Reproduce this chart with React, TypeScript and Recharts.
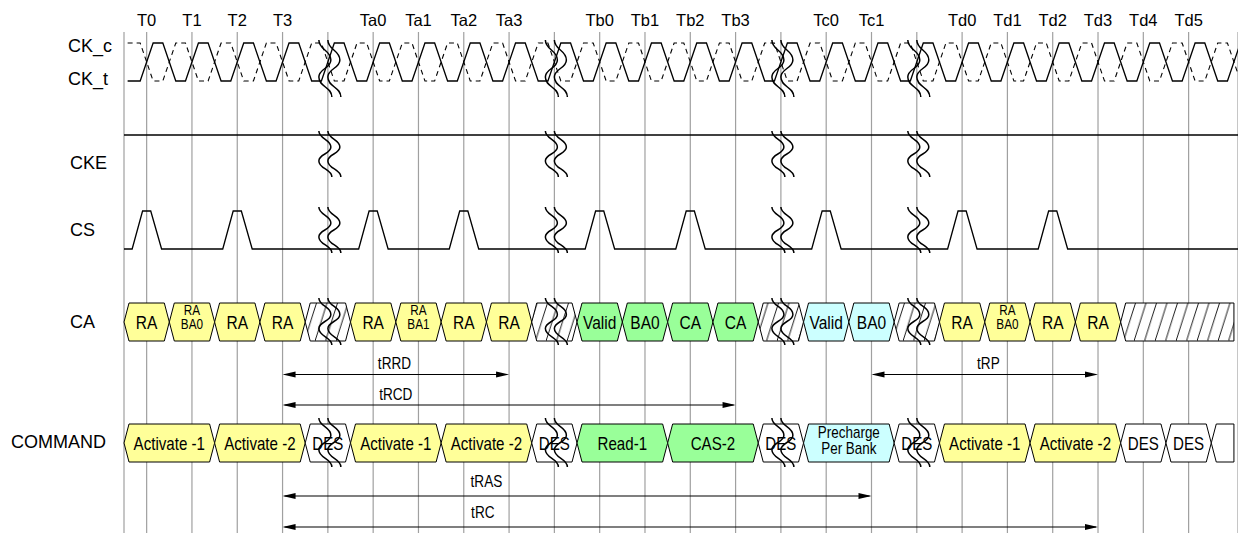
import React from 'react';
import { ComposedChart, Line, XAxis, YAxis, CartesianGrid, ReferenceArea, ReferenceDot } from 'recharts';

// clock slots (index = slot number), empty name = break slot
const slotNames = ['T0', 'T1', 'T2', 'T3', '', 'Ta0', 'Ta1', 'Ta2', 'Ta3', '', 'Tb0', 'Tb1', 'Tb2', 'Tb3', '', 'Tc0', 'Tc1', '', 'Td0', 'Td1', 'Td2', 'Td3', 'Td4', 'Td5'];
const slots = slotNames.map((_, i) => i);
const breakSlots = [4, 9, 14, 17];
const clockEdges = [0, 1, 2, 3, 4, 5, 6, 7, 8, 9, 10, 11, 12, 13, 14, 15, 16, 17, 18, 19, 20, 21, 22, 23, 24];
const csPulses = [0, 2, 5, 7, 10, 12, 15, 18, 20];
const rowNames = ['CK_c', 'CK_t', 'CKE', 'CS', 'CA', 'COMMAND'];

// [text, from, to, kind]
const caCells: [string, number, number, string][] = [
  ['RA', -0.5, 0.5, 'act'], ['RA\nBA0', 0.5, 1.5, 'act'], ['RA', 1.5, 2.5, 'act'], ['RA', 2.5, 3.5, 'act'],
  ['', 3.5, 4.5, 'hatch'],
  ['RA', 4.5, 5.5, 'act'], ['RA\nBA1', 5.5, 6.5, 'act'], ['RA', 6.5, 7.5, 'act'], ['RA', 7.5, 8.5, 'act'],
  ['', 8.5, 9.5, 'hatch'],
  ['Valid', 9.5, 10.5, 'read'], ['BA0', 10.5, 11.5, 'read'], ['CA', 11.5, 12.5, 'read'], ['CA', 12.5, 13.5, 'read'],
  ['', 13.5, 14.5, 'hatch'],
  ['Valid', 14.5, 15.5, 'pre'], ['BA0', 15.5, 16.5, 'pre'],
  ['', 16.5, 17.5, 'hatch'],
  ['RA', 17.5, 18.5, 'act'], ['RA\nBA0', 18.5, 19.5, 'act'], ['RA', 19.5, 20.5, 'act'], ['RA', 20.5, 21.5, 'act'],
  ['', 21.5, 24.0, 'hatch-open'],
];

const cmdCells: [string, number, number, string][] = [
  ['Activate -1', -0.5, 1.5, 'act'], ['Activate -2', 1.5, 3.5, 'act'], ['DES', 3.5, 4.5, 'des'],
  ['Activate -1', 4.5, 6.5, 'act'], ['Activate -2', 6.5, 8.5, 'act'], ['DES', 8.5, 9.5, 'des'],
  ['Read-1', 9.5, 11.5, 'read'], ['CAS-2', 11.5, 13.5, 'read'], ['DES', 13.5, 14.5, 'des'],
  ['Precharge\nPer Bank', 14.5, 16.5, 'pre'], ['DES', 16.5, 17.5, 'des'],
  ['Activate -1', 17.5, 19.5, 'act'], ['Activate -2', 19.5, 21.5, 'act'],
  ['DES', 21.5, 22.5, 'des'], ['DES', 22.5, 23.5, 'des'], ['', 23.5, 24.0, 'des-open'],
];

// [name, from, to, label position]
const timings: [string, number, number, number][] = [
  ['tRRD', 3, 8, 5.47], ['tRCD', 3, 13, 5.5], ['tRP', 16, 21, 18.58], ['tRAS', 3, 16, 7.5], ['tRC', 3, 21, 7.42],
];

const FONT = "'Liberation Sans', Arial, sans-serif";
const X_MIN = -0.5;
const X_MAX = 24.09;
const TH = 0.143;

const lane = {
  ck: { hi: 43, lo: 81, brk: [40, 97] },
  cke: { hi: 135, brk: [131, 177] },
  cs: { hi: 211, lo: 249, brk: [207, 253] },
  ca: { top: 303, bot: 341, brk: [298, 345] },
  cmd: { top: 424, bot: 462, brk: [418, 467] },
};
const rowLabelY: Record<string, number> = { CK_c: 45.5, CK_t: 78.3, CKE: 162.3, CS: 229.5, CA: 322, COMMAND: 442 };
const rowLabelX: Record<string, number> = { CK_c: 68, CK_t: 68, CKE: 70, CS: 70, CA: 70, COMMAND: 11 };
const timingY: Record<string, number> = { tRRD: 374.5, tRCD: 405, tRP: 374.5, tRAS: 496, tRC: 527 };
const timingLabelY: Record<string, number> = { tRRD: 369, tRCD: 400, tRP: 369, tRAS: 487, tRC: 518 };
const fills: Record<string, string> = { act: '#ffff99', read: '#99ff99', pre: '#ccffff', des: '#ffffff' };
const textStyle: Record<string, { one: number; two: number; first: number; gap: number }> = {
  ca: { one: 18.5, two: 14, first: -7, gap: 14 },
  cmd: { one: 18, two: 16, first: -5, gap: 16 },
};

// waveform tables built from the edge lists
const ckT: { x: number; y: number }[] = [{ x: -0.42, y: lane.ck.lo }];
const ckC: { x: number; y: number }[] = [{ x: -0.42, y: lane.ck.hi }];
clockEdges.forEach((e) => {
  ckT.push({ x: e - TH, y: lane.ck.lo }, { x: e + TH, y: lane.ck.hi }, { x: e + 0.5 - TH, y: lane.ck.hi }, { x: e + 0.5 + TH, y: lane.ck.lo });
  ckC.push({ x: e - TH, y: lane.ck.hi }, { x: e + TH, y: lane.ck.lo }, { x: e + 0.5 - TH, y: lane.ck.lo }, { x: e + 0.5 + TH, y: lane.ck.hi });
});
const ckeLine = [{ x: X_MIN, y: lane.cke.hi }, { x: X_MAX, y: lane.cke.hi }];
const csLine: { x: number; y: number }[] = [{ x: X_MIN, y: lane.cs.lo }];
csPulses.forEach((p) => {
  csLine.push({ x: p - 0.32, y: lane.cs.lo }, { x: p - 0.09, y: lane.cs.hi }, { x: p + 0.09, y: lane.cs.hi }, { x: p + 0.33, y: lane.cs.lo });
});
csLine.push({ x: X_MAX, y: lane.cs.lo });

const rowByY: Record<number, string> = {};
rowNames.forEach((n) => (rowByY[rowLabelY[n]] = n));

function BusCell(props: any) {
  const { x, y, width, height, text, kind, row, id } = props;
  const s = 5;
  const m = y + height / 2;
  const r = x + width;
  const open = kind.endsWith('-open');
  const base = kind.replace('-open', '');
  const d = open
    ? `M${x},${m} L${x + s},${y} L${r},${y} L${r},${y + height} L${x + s},${y + height} Z`
    : `M${x},${m} L${x + s},${y} L${r - s},${y} L${r},${m} L${r - s},${y + height} L${x + s},${y + height} Z`;
  const ts = textStyle[row];
  const lines = text ? text.split('\n') : [];
  const cx = x + width / 2;
  const pid = `hatch-${id}`;
  return (
    <g>
      {base === 'hatch' && (
        <defs>
          <pattern id={pid} patternUnits="userSpaceOnUse" x={0} y={y} width={10.5} height={height}>
            <line x1={0} y1={height} x2={12} y2={0} stroke="#000" strokeWidth={0.9} />
            <line x1={-10.5} y1={height} x2={1.5} y2={0} stroke="#000" strokeWidth={0.9} />
          </pattern>
        </defs>
      )}
      <path d={d} fill="#fff" />
      <path d={d} fill={base === 'hatch' ? `url(#${pid})` : fills[base]} stroke="#000" strokeWidth={1} />
      {lines.map((t: string, i: number) => {
        const single = lines.length === 1;
        const ty = single ? m + 6.8 : m + ts.first + i * ts.gap;
        return (
          <text
            key={i}
            transform={`translate(${cx},${ty}) scale(0.84,1)`}
            textAnchor="middle"
            fontFamily={FONT}
            fontSize={single ? ts.one : ts.two}
            fill="#000"
          >
            {t}
          </text>
        );
      })}
    </g>
  );
}

function BreakMark(props: any) {
  const { x, y, width, height } = props;
  const c = x + width / 2;
  const wave = (o: number) => {
    const pts = [[o - 6, y], [o + 6, y + 0.35 * height], [o - 6, y + 0.65 * height], [o + 7, y + height]];
    let p = `M${c + pts[0][0]},${pts[0][1]}`;
    for (let i = 1; i < pts.length; i++) {
      const [x0, y0] = pts[i - 1];
      const [x1, y1] = pts[i];
      const k = (y1 - y0) / 2;
      p += ` C${c + x0},${y0 + k} ${c + x1},${y1 - k} ${c + x1},${y1}`;
    }
    return p;
  };
  return (
    <g fill="none" stroke="#000" strokeWidth={1.5}>
      <path d={wave(-3)} />
      <path d={wave(6)} />
    </g>
  );
}

function Arrow(props: any) {
  const { x, y, width, height } = props;
  const m = y + height / 2;
  const r = x + width;
  const al = 13;
  const ah = 3;
  return (
    <g>
      <line x1={x + 2} x2={r - 2} y1={m} y2={m} stroke="#000" strokeWidth={1.2} />
      <polygon points={`${x},${m} ${x + al},${m - ah} ${x + al},${m + ah}`} fill="#000" />
      <polygon points={`${r},${m} ${r - al},${m - ah} ${r - al},${m + ah}`} fill="#000" />
    </g>
  );
}

const SlotTick = (props: any) => {
  const { x, y, payload } = props;
  return (
    <text x={x} y={y} textAnchor="middle" fontFamily={FONT} fontSize={16.5} fill="#000">
      {slotNames[payload.value] ?? ''}
    </text>
  );
};

const RowTick = (props: any) => {
  const { y, payload } = props;
  const name = rowByY[payload.value];
  return (
    <text x={rowLabelX[name]} y={y + 6.3} fontFamily={FONT} fontSize={18} fill="#000">
      {name}
    </text>
  );
};

export default function App() {
  const breakLanes = [lane.ck.brk, lane.cke.brk, lane.cs.brk, lane.ca.brk, lane.cmd.brk];
  return (
    <div style={{ position: 'absolute', left: 0, top: 0, background: '#fff' }}>
      <ComposedChart width={1238} height={533} margin={{ top: 0, right: 0, bottom: 0, left: 0 }}>
        <CartesianGrid horizontal={false} vertical stroke="#a0a0a0" strokeWidth={1.2} />
        <XAxis
          type="number"
          dataKey="x"
          orientation="top"
          height={32}
          domain={[X_MIN, X_MAX]}
          allowDataOverflow
          ticks={slots}
          interval={0}
          axisLine={false}
          tickLine={false}
          tickSize={4}
          tickMargin={2}
          tick={<SlotTick />}
        />
        <YAxis
          type="number"
          width={124}
          domain={[32, 533]}
          reversed
          allowDataOverflow
          ticks={rowNames.map((n) => rowLabelY[n])}
          interval={0}
          axisLine={false}
          tickLine={false}
          tick={<RowTick />}
        />

        <Line data={ckC} dataKey="y" type="linear" stroke="#000" strokeWidth={1.1} strokeDasharray="5 4" dot={false} activeDot={false} isAnimationActive={false} />
        <Line data={ckT} dataKey="y" type="linear" stroke="#000" strokeWidth={1.3} dot={false} activeDot={false} isAnimationActive={false} />
        <Line data={ckeLine} dataKey="y" type="linear" stroke="#000" strokeWidth={1.3} dot={false} activeDot={false} isAnimationActive={false} />
        <Line data={csLine} dataKey="y" type="linear" stroke="#000" strokeWidth={1.3} dot={false} activeDot={false} isAnimationActive={false} />

        {caCells.map(([text, from, to, kind], i) => (
          <ReferenceArea
            key={`ca-${i}`}
            x1={from}
            x2={to}
            y1={lane.ca.top}
            y2={lane.ca.bot}
            ifOverflow="visible"
            shape={(p: any) => <BusCell {...p} text={text} kind={kind} row="ca" id={i} />}
          />
        ))}
        {cmdCells.map(([text, from, to, kind], i) => (
          <ReferenceArea
            key={`cmd-${i}`}
            x1={from}
            x2={to}
            y1={lane.cmd.top}
            y2={lane.cmd.bot}
            ifOverflow="visible"
            shape={(p: any) => <BusCell {...p} text={text} kind={kind} row="cmd" id={`c${i}`} />}
          />
        ))}
        {breakSlots.map((b) =>
          breakLanes.map(([t, bt], j) => (
            <ReferenceArea
              key={`brk-${b}-${j}`}
              x1={b - 0.25}
              x2={b + 0.25}
              y1={t}
              y2={bt}
              ifOverflow="visible"
              shape={(p: any) => <BreakMark {...p} />}
            />
          ))
        )}
        {timings.map(([name, from, to]) => (
          <ReferenceArea
            key={`t-${name}`}
            x1={from}
            x2={to}
            y1={timingY[name] - 4}
            y2={timingY[name] + 4}
            ifOverflow="visible"
            shape={(p: any) => <Arrow {...p} />}
          />
        ))}
        {timings.map(([name, , , at]) => (
          <ReferenceDot
            key={`tl-${name}`}
            x={at}
            y={timingLabelY[name]}
            ifOverflow="visible"
            shape={(p: any) => (
              <text transform={`translate(${p.cx},${p.cy}) scale(0.85,1)`} textAnchor="middle" fontFamily={FONT} fontSize={16} fill="#000">
                {name}
              </text>
            )}
          />
        ))}
      </ComposedChart>
    </div>
  );
}
